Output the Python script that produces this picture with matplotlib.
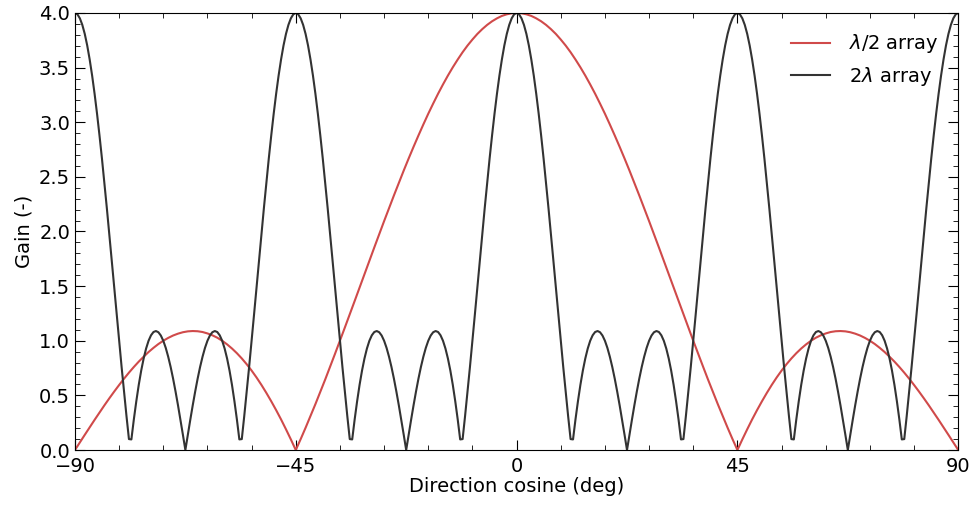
import numpy as np
import matplotlib
matplotlib.use("Agg")
import matplotlib.pyplot as plt
from matplotlib.ticker import MultipleLocator

# sample directions: 1 deg steps for the wide beam, 0.5 deg for the narrow lobes
angle_half = np.arange(-90, 91)
angle_two = np.linspace(-90, 90, 361)

# gain of the half-wavelength spaced array
gain_half_lambda = [
    0.000, 0.070, 0.139, 0.208, 0.276, 0.343, 0.409, 0.473, 0.535, 0.595,
    0.653, 0.708, 0.760, 0.809, 0.854, 0.897, 0.935, 0.970, 1.000, 1.026,
    1.048, 1.065, 1.078, 1.086, 1.089, 1.087, 1.080, 1.067, 1.050, 1.028,
    1.000, 0.967, 0.929, 0.886, 0.838, 0.785, 0.727, 0.664, 0.596, 0.523,
    0.446, 0.365, 0.280, 0.190, 0.097, 0.000, 0.100, 0.204, 0.311, 0.420,
    0.532, 0.646, 0.763, 0.881, 1.000, 1.121, 1.242, 1.364, 1.487, 1.610,
    1.732, 1.854, 1.975, 2.095, 2.213, 2.330, 2.445, 2.558, 2.668, 2.775,
    2.879, 2.980, 3.078, 3.171, 3.261, 3.346, 3.427, 3.503, 3.574, 3.641,
    3.702, 3.757, 3.808, 3.852, 3.891, 3.924, 3.951, 3.973, 3.988, 3.997,
    4.000,
    3.997, 3.988, 3.973, 3.951, 3.924, 3.891, 3.852, 3.808, 3.757, 3.702,
    3.641, 3.574, 3.503, 3.427, 3.346, 3.261, 3.171, 3.078, 2.980, 2.879,
    2.775, 2.668, 2.558, 2.445, 2.330, 2.213, 2.095, 1.975, 1.854, 1.732,
    1.610, 1.487, 1.364, 1.242, 1.121, 1.000, 0.881, 0.763, 0.646, 0.532,
    0.420, 0.311, 0.204, 0.100, 0.000, 0.097, 0.190, 0.280, 0.365, 0.446,
    0.523, 0.596, 0.664, 0.727, 0.785, 0.838, 0.886, 0.929, 0.967, 1.000,
    1.028, 1.050, 1.067, 1.080, 1.087, 1.089, 1.086, 1.078, 1.065, 1.048,
    1.026, 1.000, 0.970, 0.935, 0.897, 0.854, 0.809, 0.760, 0.708, 0.653,
    0.595, 0.535, 0.473, 0.409, 0.343, 0.276, 0.208, 0.139, 0.070, 0.000,
]

# gain of the two-wavelength spaced array
gain_two_lambda = [
    4.000, 3.988, 3.951, 3.891, 3.808, 3.702, 3.574, 3.427, 3.261, 3.078,
    2.879, 2.668, 2.445, 2.213, 1.975, 1.732, 1.487, 1.242, 1.000, 0.763,
    0.532, 0.311, 0.100, 0.097, 0.280, 0.446, 0.596, 0.727, 0.838, 0.929,
    1.000, 1.050, 1.080, 1.089, 1.078, 1.048, 1.000, 0.935, 0.854, 0.760,
    0.653, 0.535, 0.409, 0.276, 0.139, 0.000, 0.139, 0.276, 0.409, 0.535,
    0.653, 0.760, 0.854, 0.935, 1.000, 1.048, 1.078, 1.089, 1.080, 1.050,
    1.000, 0.929, 0.838, 0.727, 0.596, 0.446, 0.280, 0.097, 0.100, 0.311,
    0.532, 0.763, 1.000, 1.242, 1.487, 1.732, 1.975, 2.213, 2.445, 2.668,
    2.879, 3.078, 3.261, 3.427, 3.574, 3.702, 3.808, 3.891, 3.951, 3.988,
    4.000, 3.988, 3.951, 3.891, 3.808, 3.702, 3.574, 3.427, 3.261, 3.078,
    2.879, 2.668, 2.445, 2.213, 1.975, 1.732, 1.487, 1.242, 1.000, 0.763,
    0.532, 0.311, 0.100, 0.097, 0.280, 0.446, 0.596, 0.727, 0.838, 0.929,
    1.000, 1.050, 1.080, 1.089, 1.078, 1.048, 1.000, 0.935, 0.854, 0.760,
    0.653, 0.535, 0.409, 0.276, 0.139, 0.000, 0.139, 0.276, 0.409, 0.535,
    0.653, 0.760, 0.854, 0.935, 1.000, 1.048, 1.078, 1.089, 1.080, 1.050,
    1.000, 0.929, 0.838, 0.727, 0.596, 0.446, 0.280, 0.097, 0.100, 0.311,
    0.532, 0.763, 1.000, 1.242, 1.487, 1.732, 1.975, 2.213, 2.445, 2.668,
    2.879, 3.078, 3.261, 3.427, 3.574, 3.702, 3.808, 3.891, 3.951, 3.988,
    4.000, 3.988, 3.951, 3.891, 3.808, 3.702, 3.574, 3.427, 3.261, 3.078,
    2.879, 2.668, 2.445, 2.213, 1.975, 1.732, 1.487, 1.242, 1.000, 0.763,
    0.532, 0.311, 0.100, 0.097, 0.280, 0.446, 0.596, 0.727, 0.838, 0.929,
    1.000, 1.050, 1.080, 1.089, 1.078, 1.048, 1.000, 0.935, 0.854, 0.760,
    0.653, 0.535, 0.409, 0.276, 0.139, 0.000, 0.139, 0.276, 0.409, 0.535,
    0.653, 0.760, 0.854, 0.935, 1.000, 1.048, 1.078, 1.089, 1.080, 1.050,
    1.000, 0.929, 0.838, 0.727, 0.596, 0.446, 0.280, 0.097, 0.100, 0.311,
    0.532, 0.763, 1.000, 1.242, 1.487, 1.732, 1.975, 2.213, 2.445, 2.668,
    2.879, 3.078, 3.261, 3.427, 3.574, 3.702, 3.808, 3.891, 3.951, 3.988,
    4.000, 3.988, 3.951, 3.891, 3.808, 3.702, 3.574, 3.427, 3.261, 3.078,
    2.879, 2.668, 2.445, 2.213, 1.975, 1.732, 1.487, 1.242, 1.000, 0.763,
    0.532, 0.311, 0.100, 0.097, 0.280, 0.446, 0.596, 0.727, 0.838, 0.929,
    1.000, 1.050, 1.080, 1.089, 1.078, 1.048, 1.000, 0.935, 0.854, 0.760,
    0.653, 0.535, 0.409, 0.276, 0.139, 0.000, 0.139, 0.276, 0.409, 0.535,
    0.653, 0.760, 0.854, 0.935, 1.000, 1.048, 1.078, 1.089, 1.080, 1.050,
    1.000, 0.929, 0.838, 0.727, 0.596, 0.446, 0.280, 0.097, 0.100, 0.311,
    0.532, 0.763, 1.000, 1.242, 1.487, 1.732, 1.975, 2.213, 2.445, 2.668,
    2.879, 3.078, 3.261, 3.427, 3.574, 3.702, 3.808, 3.891, 3.951, 3.988,
    4.000,
]

x_ticks = [-90, -45, 0, 45, 90]

fig = plt.figure(figsize=(9.76, 5.07), dpi=100)
ax = fig.add_axes([0.0768, 0.1124, 0.905, 0.862])

ax.plot(angle_half, gain_half_lambda, color="#d04a4a", linewidth=1.5, label=r"$\lambda$/2 array")
ax.plot(angle_two, gain_two_lambda, color="#333333", linewidth=1.5, label=r"2$\lambda$ array")

ax.set_xlim(-90, 90)
ax.set_ylim(0, 4)
ax.set_xticks(x_ticks)
ax.xaxis.set_minor_locator(MultipleLocator(9))
ax.yaxis.set_major_locator(MultipleLocator(0.5))
ax.yaxis.set_minor_locator(MultipleLocator(0.1))
ax.tick_params(which="both", direction="in", top=True, right=True, labelsize=14)
ax.tick_params(which="major", length=7)
ax.tick_params(which="minor", length=3.5)
ax.tick_params(axis="x", pad=5)

ax.set_xlabel("Direction cosine (deg)", fontsize=14, labelpad=1)
ax.set_ylabel("Gain (-)", fontsize=14, labelpad=4)

ax.legend(loc="upper right", frameon=False, fontsize=14, handlelength=2.0,
          handletextpad=1.0, borderaxespad=0.6, labelspacing=0.5)

fig.savefig("out.png", dpi=100)
